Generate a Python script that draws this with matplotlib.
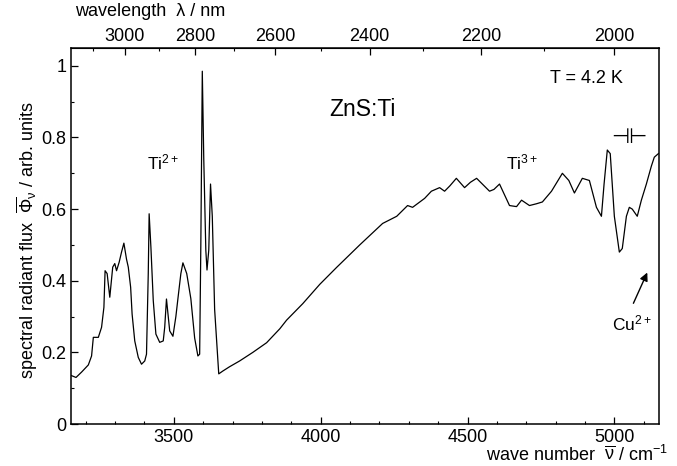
import numpy as np
import matplotlib
matplotlib.use("Agg")
import matplotlib.pyplot as plt
from matplotlib.ticker import MultipleLocator, FixedLocator

plt.rcParams['font.family'] = ['Liberation Sans', 'DejaVu Sans']
plt.rcParams['mathtext.fontset'] = 'custom'
plt.rcParams['mathtext.rm'] = 'Liberation Sans'
plt.rcParams['mathtext.it'] = 'Liberation Sans'
plt.rcParams['mathtext.bf'] = 'Liberation Sans:bold'

# spectrum: wave number (cm^-1) and flux (arb. units)
wavenumber = [3152, 3167, 3186, 3209, 3220, 3226, 3243, 3254, 3262, 3266,
              3273, 3282, 3292, 3299, 3305, 3314, 3322, 3330, 3339, 3345,
              3353, 3358, 3367, 3379, 3390, 3401, 3407, 3413, 3416, 3422,
              3430, 3439, 3452, 3464, 3469, 3475, 3486, 3497, 3507, 3514,
              3524, 3531, 3544, 3558, 3571, 3582, 3588, 3592, 3597, 3602,
              3609, 3613, 3619, 3625, 3631, 3639, 3653, 3667, 3690, 3724,
              3769, 3816, 3861, 3884, 3939, 3997, 4054, 4133, 4211, 4259,
              4296, 4313, 4354, 4377, 4405, 4422, 4440, 4462, 4490, 4510,
              4531, 4575, 4590, 4609, 4643, 4667, 4684, 4711, 4735, 4755,
              4786, 4823, 4845, 4864, 4891, 4915, 4939, 4956, 4965, 4976,
              4986, 5000, 5017, 5027, 5041, 5051, 5061, 5078, 5092, 5109,
              5126, 5136, 5150]
flux = [0.135, 0.13, 0.145, 0.165, 0.19, 0.242, 0.242, 0.27, 0.326, 0.428,
        0.42, 0.354, 0.438, 0.448, 0.428, 0.452, 0.48, 0.505, 0.46, 0.438,
        0.382, 0.307, 0.232, 0.186, 0.167, 0.176, 0.195, 0.42, 0.587, 0.494,
        0.345, 0.251, 0.228, 0.232, 0.27, 0.349, 0.26, 0.245, 0.30, 0.35,
        0.42, 0.45, 0.42, 0.35, 0.24, 0.19, 0.195, 0.5, 0.985, 0.74,
        0.485, 0.43, 0.485, 0.67, 0.58, 0.32, 0.14, 0.148, 0.16, 0.176,
        0.20, 0.227, 0.266, 0.29, 0.336, 0.39, 0.437, 0.50, 0.56, 0.58,
        0.61, 0.605, 0.63, 0.65, 0.66, 0.65, 0.665, 0.686, 0.66, 0.675,
        0.686, 0.65, 0.655, 0.67, 0.61, 0.607, 0.625, 0.61, 0.615, 0.62,
        0.65, 0.70, 0.68, 0.645, 0.686, 0.68, 0.605, 0.58, 0.67, 0.765,
        0.755, 0.58, 0.48, 0.49, 0.58, 0.605, 0.60, 0.58, 0.625, 0.67,
        0.72, 0.745, 0.755]

wl_major = [3000, 2800, 2600, 2400, 2200, 2000]
wl_minor = [3100, 2900, 2700, 2500, 2300, 2100]


def nu_to_wl(x):
    x = np.asarray(x, dtype=float)
    with np.errstate(divide='ignore'):
        return np.where(x == 0, np.inf, 1e7 / np.where(x == 0, 1, x))


fig = plt.figure(figsize=(6.77, 4.66), dpi=100)
ax = fig.add_axes([0.1049, 0.0901, 0.8685, 0.807])

ax.plot(wavenumber, flux, color='black', lw=0.9)

ax.set_xlim(3150, 5152)
ax.set_ylim(0, 1.05)
ax.xaxis.set_major_locator(MultipleLocator(500))
ax.xaxis.set_minor_locator(MultipleLocator(100))
ax.yaxis.set_major_locator(MultipleLocator(0.2))
ax.yaxis.set_minor_locator(MultipleLocator(0.1))
ax.set_yticks([0, 0.2, 0.4, 0.6, 0.8, 1.0])
ax.set_yticklabels(['0', '0.2', '0.4', '0.6', '0.8', '1'])
ax.tick_params(which='both', direction='in', labelsize=13, top=False, right=False)
ax.tick_params(which='major', length=5, width=0.9)
ax.tick_params(which='minor', length=2.5, width=0.8)
for s in ax.spines.values():
    s.set_linewidth(1.1)

# wavelength scale on top
secax = ax.secondary_xaxis('top', functions=(nu_to_wl, nu_to_wl))
secax.xaxis.set_major_locator(FixedLocator(wl_major))
secax.xaxis.set_minor_locator(FixedLocator(wl_minor))
secax.tick_params(which='both', direction='in', labelsize=13, pad=2)
secax.tick_params(which='major', length=5, width=0.9)
secax.tick_params(which='minor', length=2.5, width=0.8)

# labels
fig.text(75 / 677, 1 - 12 / 466, 'wavelength  λ / nm', fontsize=13, va='center', ha='left')
fig.text(668 / 677, 1 - 455 / 466, r'wave number  $\overline{\nu}$ / cm$^{-1}$',
         fontsize=13, va='center', ha='right')
fig.text(27 / 677, 1 - 240 / 466, r'spectral radiant flux  $\overline{\Phi}_{\nu}$ / arb. units',
         fontsize=13, rotation=90, va='center', ha='center')

# annotations
ax.text(4143, 0.877, 'ZnS:Ti', fontsize=16.5, ha='center', va='center')
ax.text(4905, 0.966, 'T = 4.2 K', fontsize=13, ha='center', va='center')
ax.text(3463, 0.73, r'Ti$^{2+}$', fontsize=12.5, ha='center', va='center')
ax.text(4684, 0.73, r'Ti$^{3+}$', fontsize=12.5, ha='center', va='center')
ax.text(5051, 0.80, '⊣⊢', fontsize=15, ha='center', va='center', family='DejaVu Sans')
ax.text(5058, 0.28, r'Cu$^{2+}$', fontsize=12.5, ha='center', va='center')
ax.annotate('', xy=(5116, 0.43), xytext=(5061, 0.33),
            arrowprops=dict(arrowstyle='-|>', color='black', lw=1, mutation_scale=12))

fig.savefig('out.png', dpi=100)
